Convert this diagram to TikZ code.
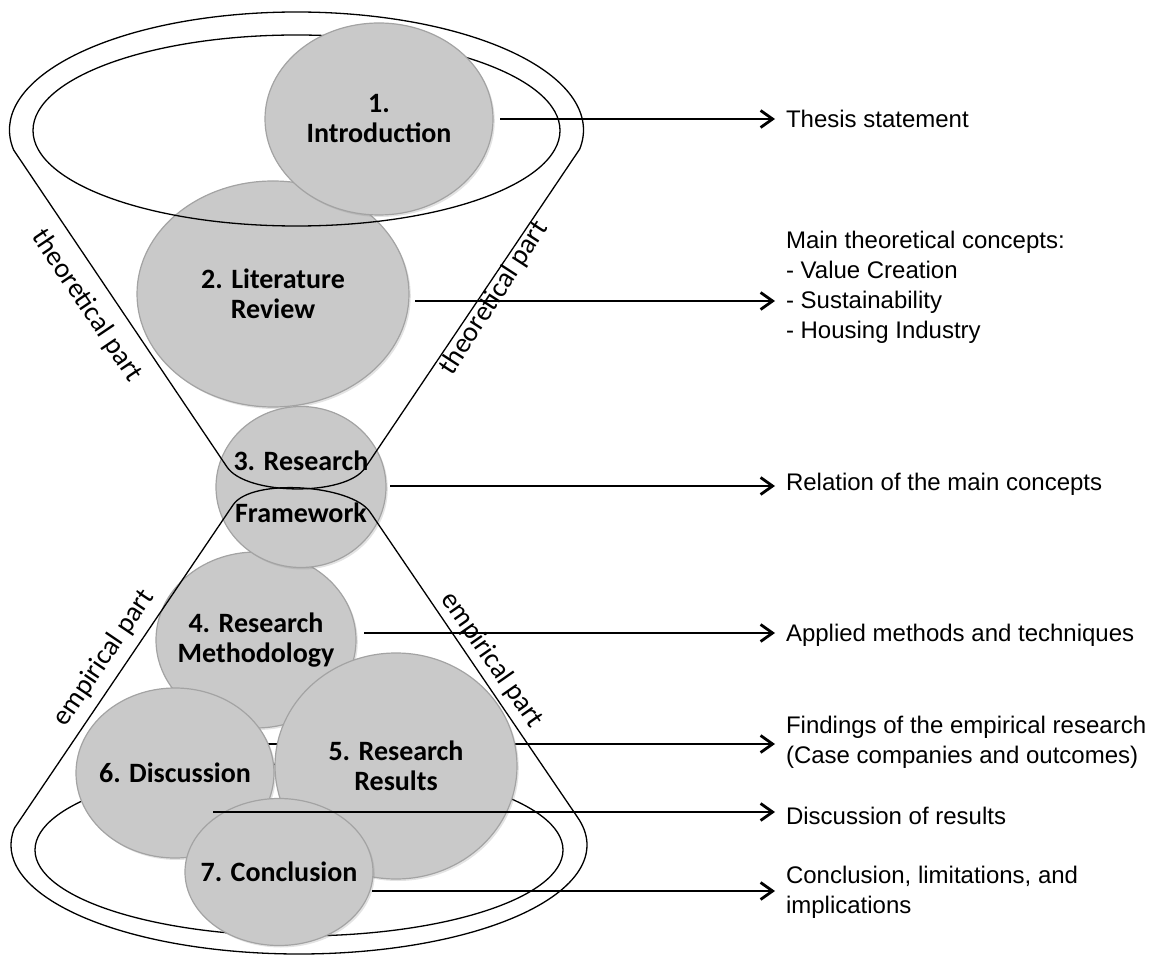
\documentclass[tikz,border=0pt]{standalone}
\usepackage{fontspec}
\setmainfont{Carlito}
\newfontfamily\notefont{Liberation Sans}
\usepackage{tikz}
\usetikzlibrary{arrows.meta,calc,shapes.geometric,shadows}
\definecolor{fnfill}{HTML}{C9C9C9}
\definecolor{fnrim} {HTML}{A3A3A3}
\tikzset{
  fnchap/.style={ellipse, draw=fnrim, fill=fnfill, line width=0.6pt, inner sep=-30pt,
                 align=center, font=\fontsize{14}{15}\selectfont\bfseries,
                 drop shadow={shadow xshift=0.9pt, shadow yshift=-1pt, opacity=0.22}},
  fnnote/.style={anchor=west, inner sep=0pt, outer sep=5.5pt, align=left,
                 font=\notefont\fontsize{12}{15}\selectfont},
  fnedge/.style={-{Straight Barb[length=6pt,width=8.5pt,line width=1.4pt]}, line width=1pt},
  fnline/.style={line width=0.65pt},
  fnlabel/.style={font=\fontsize{14}{15}\selectfont, inner sep=0pt},
}

\begin{document}
\begin{tikzpicture}[x=0.5pt,y=0.5pt]
  \useasboundingbox (0,0) rectangle (1156,-956);

  % funnel geometry
  \coordinate (uc) at (296.5,-130);  % upper rim centre
  \coordinate (lc) at (299,-845);    % lower rim centre
  \coordinate (nUL) at (227,-467);
  \coordinate (nUR) at (365,-468);
  \coordinate (nLL) at (233,-505);
  \coordinate (nLR) at (370,-512);

  % lower rim, partly hidden
  \draw[fnline] (299,-850) ellipse [x radius=264, y radius=86];

  % starts of the connectors
  \coordinate (s1) at (500,-119);
  \coordinate (s2) at (415,-301);
  \coordinate (s3) at (390,-486);
  \coordinate (s4) at (364,-633);
  \coordinate (s5) at (262,-744);
  \coordinate (s6) at (213,-812);
  \coordinate (s7) at (372,-891);

  % notes on the right
  \node[fnnote] (t1) at (775,-119) {Thesis statement};
  \node[fnnote] (t2) at (775,-287) {Main theoretical concepts:\\- Value Creation\\- Sustainability\\- Housing Industry};
  \node[fnnote] (t3) at (775,-484) {Relation of the main concepts};
  \node[fnnote] (t4) at (775,-635) {Applied methods and techniques};
  \node[fnnote] (t5) at (775,-742) {Findings of the empirical research\\(Case companies and outcomes)};
  \node[fnnote] (t6) at (775,-816) {Discussion of results};
  \node[fnnote] (t7) at (775,-892) {Conclusion, limitations, and\\implications};

  \draw[fnedge] (s5) -- (s5 -| t5.west);

  % chapters
  \node[fnchap, minimum width=136pt, minimum height=113pt] (c2) at (273,-294) {2. Literature\\Review};
  \draw[fnline] (296.5,-130.5) ellipse [x radius=263.5, y radius=95.5];
  \node[fnchap, minimum width=114pt, minimum height=96pt] (c1) at (379,-119) {1.\\Introduction};
  \node[fnchap, minimum width=100pt, minimum height=88pt] (c4) at (256,-640) {4. Research\\Methodology};
  \node[fnchap, minimum width=85pt, minimum height=80.5pt] (c3) at (301,-487) {3. Research\\[11pt]Framework};
  \node[fnchap, minimum width=99pt, minimum height=85pt] (c6) at (175,-773) {6. Discussion};
  \node[fnchap, minimum width=121pt, minimum height=113pt] (c5) at (396,-766) {5. Research\\Results};
  \node[fnchap, minimum width=94pt, minimum height=73.5pt] (c7) at (279,-872) {7. Conclusion};

  % funnel outlines
  \draw[fnline] (nUL) -- ($(uc)+(189.8:287 and 118)$)
    arc[start angle=189.8, end angle=-9.3, x radius=287, y radius=118] -- (nUR)
    .. controls (345.7,-496.6) and (246.3,-495.6) .. (nUL);
  \draw[fnline] (nLL) -- ($(lc)+(171:288 and 109)$)
    arc[start angle=171, end angle=375, x radius=288, y radius=109] -- (nLR)
    .. controls (351.5,-484.7) and (251.3,-477.5) .. (nLL);

  \node[fnlabel, rotate=-56] (thL) at (87,-306) {theoretical part};
  \node[fnlabel, rotate=57]  (thR) at (494,-298) {theoretical part};
  \node[fnlabel, rotate=56]  (emL) at (104,-658) {empirical part};
  \node[fnlabel, rotate=-55] (emR) at (492,-660) {empirical part};

  \draw[fnedge] (s1) -- (s1 -| t1.west);
  \draw[fnedge] (s2) -- (s2 -| t2.west);
  \draw[fnedge] (s3) -- (s3 -| t3.west);
  \draw[fnedge] (s4) -- (s4 -| t4.west);
  \draw[fnedge] (s6) -- (s6 -| t6.west);
  \draw[fnedge] (s7) -- (s7 -| t7.west);
\end{tikzpicture}
\end{document}
